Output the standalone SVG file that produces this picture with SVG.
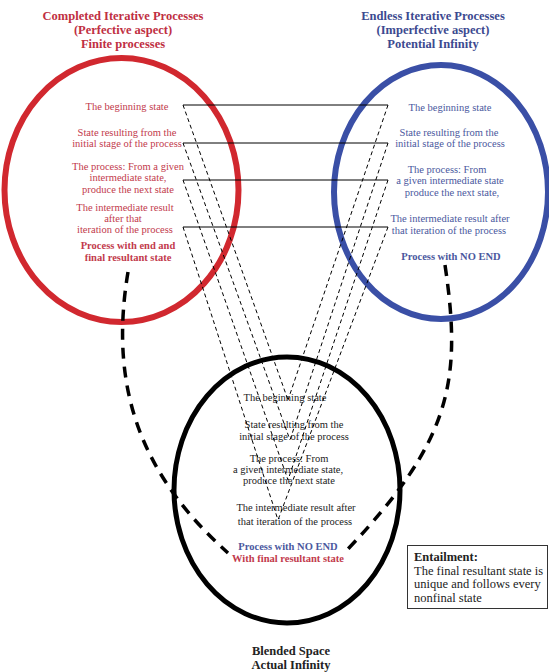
<svg xmlns="http://www.w3.org/2000/svg" width="549" height="672" viewBox="0 0 549 672">
<style>
text{font-family:"Liberation Serif","Times New Roman","DejaVu Serif",serif;text-anchor:middle}
.t{font-size:10.5px}
.b{font-weight:bold}
.h{font-size:12.5px;font-weight:bold}
.red{fill:#c23a4c}
.redh{fill:#c02f42}
.blue{fill:#4a589e}
.blueh{fill:#3c4a90}
.blk{fill:#222}
.thin{stroke:#000;stroke-width:1;fill:none}
.dash{stroke:#000;stroke-width:1;stroke-dasharray:4 3;fill:none}
.big{stroke:#000;stroke-width:3.5;stroke-dasharray:11 8;fill:none}
</style>
<rect width="549" height="672" fill="#fff"/>
<g id="completed">
<ellipse cx="121.5" cy="190" rx="117" ry="132" fill="none" stroke="#d1282f" stroke-width="6"/>
<text class="h redh" x="123" y="20">Completed Iterative Processes</text>
<text class="h redh" x="123" y="34">(Perfective aspect)</text>
<text class="h redh" x="123" y="48">Finite processes</text>
<text class="t red" x="127" y="110">The beginning state</text>
<text class="t red" x="127" y="135.5">State resulting from the</text>
<text class="t red" x="127" y="146.5">initial stage of the process</text>
<text class="t red" x="128" y="169.5">The process: From a given</text>
<text class="t red" x="128" y="181">intermediate state,</text>
<text class="t red" x="128" y="192.5">produce the next state</text>
<text class="t red" x="125" y="210.5">The intermediate result</text>
<text class="t red" x="123" y="221.5">after that</text>
<text class="t red" x="125" y="232.5">iteration of the process</text>
<text class="t b red" x="128" y="248.5">Process with end and</text>
<text class="t b red" x="128" y="260.5">final resultant state</text>
</g>
<g id="endless">
<ellipse cx="441" cy="192" rx="107" ry="127" fill="none" stroke="#3a4fa6" stroke-width="6"/>
<text class="h blueh" x="433" y="20">Endless Iterative Processes</text>
<text class="h blueh" x="433" y="34">(Imperfective aspect)</text>
<text class="h blueh" x="433" y="48">Potential Infinity</text>
<text class="t blue" x="450" y="110.5">The beginning state</text>
<text class="t blue" x="449" y="135.5">State resulting from the</text>
<text class="t blue" x="450" y="146.5">initial stage of the process</text>
<text class="t blue" x="447" y="172.5">The process: From</text>
<text class="t blue" x="450" y="184">a given intermediate state</text>
<text class="t blue" x="452" y="195.5">produce the next state,</text>
<text class="t blue" x="450" y="221.5">The intermediate result after</text>
<text class="t blue" x="449" y="233.5">that iteration of the process</text>
<text class="t b blue" x="451" y="259.5">Process with NO END</text>
</g>
<g id="blended">
<ellipse cx="287" cy="490" rx="113" ry="133" fill="none" stroke="#000" stroke-width="5"/>
<text class="t blk" x="285" y="400.5">The beginning state</text>
<text class="t blk" x="294" y="427.5">State resulting from the</text>
<text class="t blk" x="294" y="439.5">initial stage of the process</text>
<text class="t blk" x="289" y="461.5">The process: From</text>
<text class="t blk" x="288" y="472.5">a given intermediate state,</text>
<text class="t blk" x="289" y="483.5">produce the next state</text>
<text class="t blk" x="296" y="510.5">The intermediate result after</text>
<text class="t blk" x="295" y="524.5">that iteration of the process</text>
<text class="t b blue" x="288" y="549.5">Process with NO END</text>
<text class="t b red" x="288" y="561.5">With final resultant state</text>
<text class="h blk" x="291" y="655">Blended Space</text>
<text class="h blk" x="291" y="668.5">Actual Infinity</text>
</g>
<g id="entailment">
<rect x="407.5" y="545.5" width="140" height="63" fill="#fff" stroke="#333" stroke-width="1"/>
<text class="b blk" x="414" y="561" style="text-anchor:start;font-size:12.5px">Entailment:</text>
<text class="blk" x="414" y="574.5" style="text-anchor:start;font-size:12.5px">The final resultant state is</text>
<text class="blk" x="414" y="588" style="text-anchor:start;font-size:12.5px">unique and follows every</text>
<text class="blk" x="414" y="601.5" style="text-anchor:start;font-size:12.5px">nonfinal state</text>
</g>
<g id="connectors">
<path class="thin" d="M183,105H388M183,143H388M183,180H388M183,227H388"/>
<path class="dash" d="M183,105L288,400M388,105L288,400"/>
<path class="dash" d="M183,143L290,440M388,143L290,440"/>
<path class="dash" d="M183,180L288,480M388,180L288,480"/>
<path class="dash" d="M183,227L278,520M388,227L278,520"/>
<path class="big" d="M128,272C110,380 135,470 228,553"/>
<path class="big" d="M445,265C462,380 452,440 347,550"/>
</g>
</svg>
